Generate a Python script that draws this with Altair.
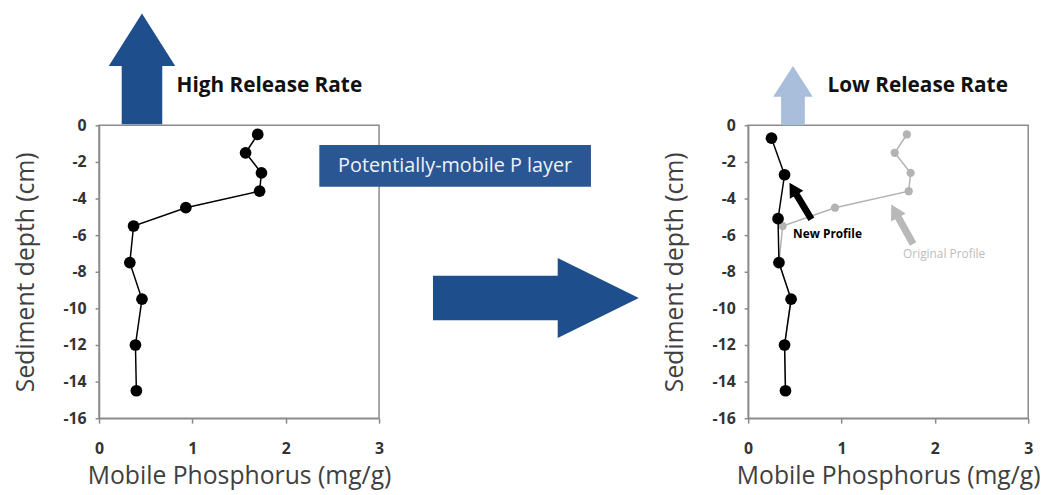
import altair as alt
import pandas as pd

# ---- data ----
depth_orig = [-0.5, -1.5, -2.6, -3.6, -4.5, -5.5, -7.5, -9.5, -12.0, -14.5]
p_orig = [1.70, 1.57, 1.74, 1.72, 0.93, 0.37, 0.33, 0.46, 0.39, 0.40]
depth_new = [-0.7, -2.7, -5.1, -7.5, -9.5, -12.0, -14.5]
p_new = [0.25, 0.39, 0.32, 0.33, 0.46, 0.39, 0.40]
x_ticks = [0, 1, 2, 3]
y_ticks = [-16, -14, -12, -10, -8, -6, -4, -2, 0]

x_title = "Mobile Phosphorus (mg/g)"
y_title = "Sediment depth (cm)"
left_label = "High Release Rate"
right_label = "Low Release Rate"
box_label = "Potentially-mobile P layer"
new_label = "New Profile"
orig_label = "Original Profile"

FONT = "Open Sans"
W, H = 283, 296
DARK_BLUE = "#1f4e8c"
BOX_BLUE = "#2b5694"
LIGHT_BLUE = "#a9bedb"
GRAY_PT = "#b3b3b3"
FRAME = "#8a8a8a"

# block-arrow symbol outlines (unit box [-1,1])
UP_ARROW_L = "M0,-1 L0.6,-0.054 L0.366,-0.054 L0.366,1 L-0.366,1 L-0.366,-0.054 L-0.6,-0.054 Z"
UP_ARROW_R = "M0,-1 L0.667,0.033 L0.4,0.033 L0.4,1 L-0.4,1 L-0.4,0.033 L-0.667,0.033 Z"
RIGHT_ARROW = "M1,0 L0.212,-0.389 L0.212,-0.216 L-1,-0.216 L-1,0.216 L0.212,0.216 L0.212,0.389 Z"
THIN_ARROW = "M0,-1 L0.37,-0.35 L0.16,-0.35 L0.16,1 L-0.16,1 L-0.16,-0.35 L-0.37,-0.35 Z"

xs = alt.Scale(domain=[0, 3], nice=False, zero=False)
ys = alt.Scale(domain=[-16, 0], nice=False, zero=False)

xax = alt.Axis(values=x_ticks, title=x_title, grid=False, labelExpr="'' + datum.value",
               tickSize=5, labelPadding=18, titlePadding=7, labelOverlap=False)
yax = alt.Axis(values=y_ticks, title=y_title, grid=False, labelExpr="'' + datum.value",
               tickSize=4, labelPadding=9, titlePadding=25, labelOverlap=False)

orig = pd.DataFrame({"p": p_orig, "depth": depth_orig, "i": list(range(len(p_orig)))})
new = pd.DataFrame({"p": p_new, "depth": depth_new, "i": list(range(len(p_new)))})


def enc(chart):
    return chart.encode(x=alt.X("p:Q", scale=xs, axis=xax), y=alt.Y("depth:Q", scale=ys, axis=yax))


def profile(df, color, size, sw):
    line = enc(alt.Chart(df).mark_line(color=color, strokeWidth=sw)).encode(order="i:Q")
    pts = enc(alt.Chart(df).mark_circle(color=color, size=size, opacity=1))
    return [line, pts]


def symbol(x, y, path, size, color, angle=0):
    df = pd.DataFrame({"p": [x], "depth": [y]})
    return enc(alt.Chart(df).mark_point(shape=path, size=size, filled=True, color=color,
                                        opacity=1, strokeWidth=0, angle=angle))


def label(x, y, txt, size, color, weight="normal", align="left"):
    df = pd.DataFrame({"p": [x], "depth": [y], "t": [txt]})
    return enc(alt.Chart(df).mark_text(align=align, baseline="middle", fontSize=size, color=color,
                                       fontWeight=weight, font=FONT)).encode(text="t:N")


box_df = pd.DataFrame({"p": [2.36], "p2": [5.27], "depth": [-1.08], "depth2": [-3.35]})
box = alt.Chart(box_df).mark_rect(color=BOX_BLUE, opacity=1).encode(
    x=alt.X("p:Q", scale=xs, axis=xax), x2="p2:Q", y=alt.Y("depth:Q", scale=ys, axis=yax), y2="depth2:Q")

left = alt.layer(
    *profile(orig, "black", 140, 1.5),
    symbol(0.46, 3.08, UP_ARROW_L, 12544, DARK_BLUE),
    label(0.83, 2.16, left_label, 21, "#111111", weight="bold"),
    symbol(4.68, -9.43, RIGHT_ARROW, 43264, DARK_BLUE),
    box,
    label(3.815, -2.22, box_label, 20, "#eef2f8", align="center"),
).properties(width=W, height=H)

right = alt.layer(
    *profile(orig, GRAY_PT, 70, 1.5),
    *profile(new, "black", 140, 1.5),
    symbol(0.48, 1.62, UP_ARROW_R, 3600, LIGHT_BLUE),
    label(0.85, 2.16, right_label, 21, "#111111", weight="bold"),
    symbol(0.56, -4.14, THIN_ARROW, 1849, "black", angle=329),
    symbol(1.65, -5.41, THIN_ARROW, 2080, "#b8b8b8", angle=331),
    label(0.85, -5.95, new_label, 12, "black", weight="bold", align="center"),
    label(2.10, -7.03, orig_label, 12, "#bdbdbd", align="center"),
).properties(width=W, height=H)

chart = alt.hconcat(left, right, spacing=373, bounds="flush").properties(
    padding={"left": 4, "top": 2, "right": 5, "bottom": 0}
).configure_view(stroke=FRAME, strokeWidth=1.5).configure_axis(
    domainColor=FRAME, domainWidth=1.5, tickColor=FRAME, tickWidth=1.5,
    labelFont=FONT, labelFontSize=16, labelFontWeight="bold", labelColor="#333333",
    labelOverlap=False, labelBound=False, labelFlush=False,
    titleFont=FONT, titleFontSize=25, titleColor="#404040", titleFontWeight="normal",
)

chart.save("out.html", embed_options={"renderer": "svg", "actions": False})
